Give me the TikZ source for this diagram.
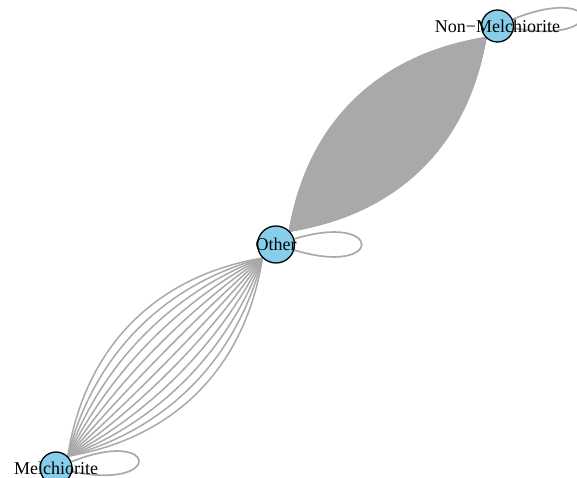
\documentclass[tikz,border=0pt]{standalone}
\usepackage{fontspec}
\setmainfont{Liberation Serif}
\usetikzlibrary{calc}
\definecolor{vfill}{RGB}{135,206,235}
\definecolor{egray}{RGB}{169,169,169}
\tikzset{
  vtx/.style={circle,draw=black,line width=1.3pt,fill=vfill,minimum size=32pt,inner sep=0pt},
  bigvtx/.style={vtx,minimum size=37pt},
  lbl/.style={inner sep=0pt,text=black,font=\fontsize{18}{20}\selectfont},
  edge/.style={draw=egray,line width=1.5pt},
  loopedge/.style={draw=egray,line width=1.7pt}
}
\begin{document}
\begin{tikzpicture}[x=1pt,y=1pt]
\useasboundingbox (0,0) rectangle (577,478);
\clip (0,0) rectangle (577,478);
\fill[white] (0,0) rectangle (577,478);
% vertex shapes used as edge ends
\node[vtx,draw=none,fill=none] (nm) at (497.5,452) {};
\node[bigvtx,draw=none,fill=none] (ot) at (276,233.5) {};
\node[vtx,draw=none,fill=none] (me) at (56,10) {};
% bottom bundle Other -- Melchiorite
\foreach \i in {0,...,11} {
  \pgfmathsetmacro\d{-64+128*\i/11}
  \draw[edge] (ot.225) .. controls ($(ot.225)!0.32!(me.45)+(135:\d)$) and ($(ot.225)!0.68!(me.45)+(135:\d)$) .. (me.45);
}
% top bundle Other -- Non-Melchiorite
\foreach \i in {0,...,99} {
  \pgfmathsetmacro\d{-64+128*\i/99}
  \draw[edge] (ot.45) .. controls ($(ot.45)!0.32!(nm.225)+(135:\d)$) and ($(ot.45)!0.68!(nm.225)+(135:\d)$) .. (nm.225);
}
% self loops
\draw[loopedge] (nm.24) .. controls +(22:96) and +(-10:96) .. (nm.-8);
\draw[loopedge] (ot.17) .. controls +(17:94) and +(-17:94) .. (ot.-17);
\draw[loopedge] (me.22) .. controls +(22:94) and +(-12:94) .. (me.-12);
% vertices
\node[vtx] (nmC) at (nm) {};
\node[bigvtx] (otC) at (ot) {};
\node[vtx] (meC) at (me) {};
% labels
\node[lbl] (nmL) at (nm) {Non−Melchiorite};
\node[lbl] (otL) at (ot) {Other};
\node[lbl] (meL) at (me) {Melchiorite};
\end{tikzpicture}
\end{document}
